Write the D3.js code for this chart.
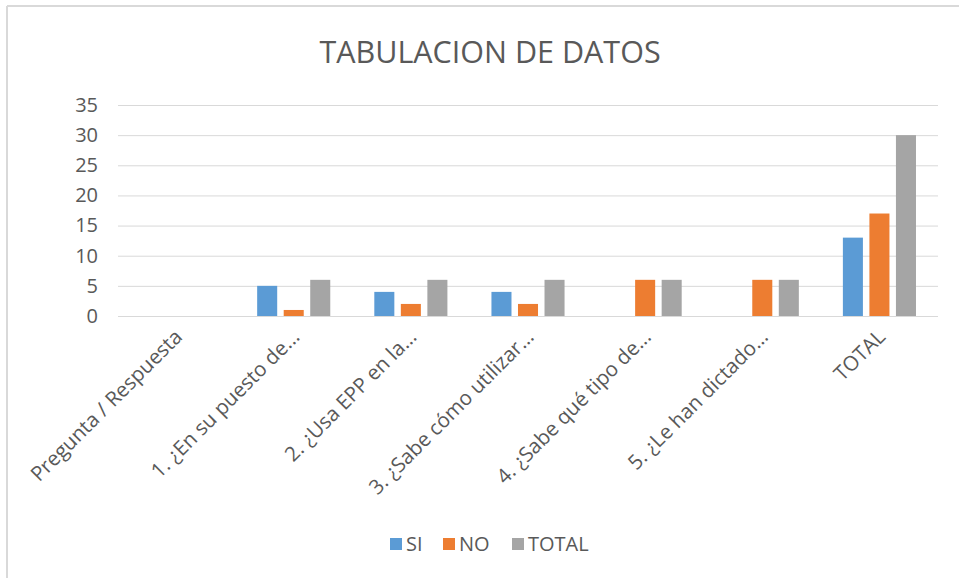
<!DOCTYPE html>
<html>
<head>
<meta charset="utf-8">
<script src="https://cdn.jsdelivr.net/npm/d3@7"></script>
<style>
  body { margin: 0; background: #fff; }
  text { font-family: "Open Sans", sans-serif; fill: #595959; }
</style>
</head>
<body>
<div id="chart"></div>
<script>
const categories = ["Pregunta / Respuesta", "1. ¿En su puesto de...", "2. ¿Usa EPP en la...",
  "3. ¿Sabe cómo utilizar...", "4. ¿Sabe qué tipo de...", "5. ¿Le han dictado...", "TOTAL"];
const series = ["SI", "NO", "TOTAL"];
const siValues = [null, 5, 4, 4, 0, 0, 13];
const noValues = [null, 1, 2, 2, 6, 6, 17];
const totalValues = [null, 6, 6, 6, 6, 6, 30];
const yTicks = [0, 5, 10, 15, 20, 25, 30, 35];
const colors = ["#5b9bd5", "#ed7d31", "#a5a5a5"];

const width = 959, height = 579;
const margin = {top: 105, right: 21, bottom: 263, left: 118};
const w = width - margin.left - margin.right;
const h = height - margin.top - margin.bottom;

const svg = d3.select("#chart").append("svg")
  .attr("width", width)
  .attr("height", height);

// chart border (left + top only visible)
svg.append("line").attr("x1", 7).attr("x2", width).attr("y1", 6).attr("y2", 6)
  .attr("stroke", "#d9d9d9").attr("stroke-width", 2);
svg.append("line").attr("x1", 7).attr("x2", 7).attr("y1", 6).attr("y2", 578)
  .attr("stroke", "#d9d9d9").attr("stroke-width", 2);

svg.append("text")
  .attr("x", 490).attr("y", 63)
  .attr("text-anchor", "middle")
  .style("font-size", "30.5px")
  .text("TABULACION DE DATOS");

const g = svg.append("g")
  .attr("transform", "translate(" + margin.left + "," + margin.top + ")");

const x0 = d3.scaleBand().domain(categories).range([0, w]);
const x1 = d3.scaleBand().domain(series).range([0, x0.bandwidth()])
  .paddingInner(0.245).paddingOuter(0.83);
const y = d3.scaleLinear().domain([0, 35]).range([h, 0]);

// Y axis + gridlines
const yAxis = g.append("g")
  .call(d3.axisLeft(y).tickValues(yTicks).tickSize(-w).tickPadding(20));
yAxis.select(".domain").remove();
yAxis.selectAll("line").attr("stroke", "#d9d9d9");
yAxis.selectAll("text").style("font-size", "20px").style("font-family", "'Open Sans', sans-serif").attr("fill", "#595959");

// bars
const rows = categories.map((c, i) => ({cat: c, vals: [siValues[i], noValues[i], totalValues[i]]}));
g.append("g").selectAll("g")
  .data(rows)
  .enter().append("g")
  .attr("transform", d => "translate(" + x0(d.cat) + ",0)")
  .selectAll("rect")
  .data(d => d.vals.map((v, k) => ({s: series[k], v: v, k: k})).filter(e => e.v))
  .enter().append("rect")
  .attr("x", d => x1(d.s))
  .attr("y", d => y(d.v))
  .attr("width", x1.bandwidth())
  .attr("height", d => h - y(d.v))
  .attr("fill", d => colors[d.k]);

// X axis labels
const xAxis = g.append("g")
  .attr("transform", "translate(0," + h + ")")
  .call(d3.axisBottom(x0).tickSize(0).tickPadding(0));
xAxis.select(".domain").remove();
xAxis.selectAll("text")
  .style("font-size", "20.5px").style("font-family", "'Open Sans', sans-serif").attr("fill", "#595959")
  .attr("text-anchor", "end")
  .attr("y", 0).attr("dy", "0.35em")
  .attr("transform", "translate(2,17) rotate(-45)");

// legend
const legend = svg.append("g").attr("transform", "translate(390,544)");
const legendX = [0, 53, 122];
series.forEach((s, i) => {
  const item = legend.append("g").attr("transform", "translate(" + legendX[i] + ",0)");
  item.append("rect").attr("x", 0).attr("y", -6).attr("width", 12).attr("height", 12).attr("fill", colors[i]);
  item.append("text").attr("x", 16).attr("y", 0).attr("dy", "0.35em")
    .style("font-size", "20px").text(s);
});
</script>
</body>
</html>
